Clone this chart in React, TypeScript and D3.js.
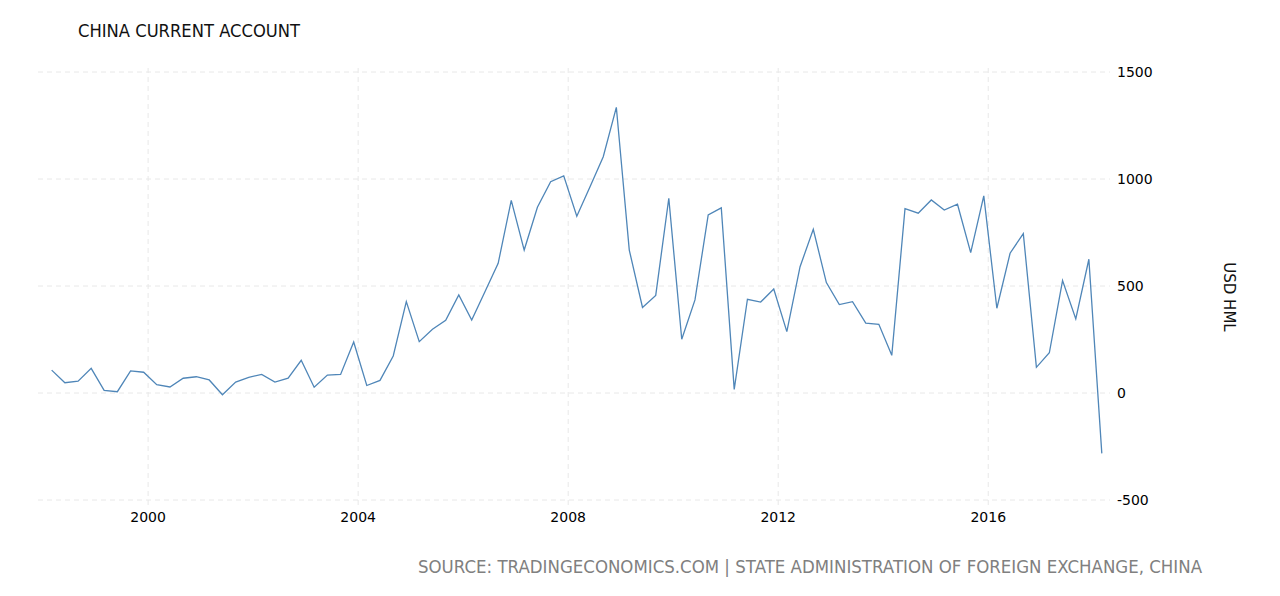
import React from "react";
import * as d3 from "d3";

const startYear = 1998;
const values: number[] = [
  107, 48, 55, 115, 12, 6, 103, 97, 39, 28, 69, 76, 61, -8, 51, 73, 87, 51, 69, 153,
  27, 84, 87, 238, 35, 59, 173, 427, 240, 298, 340, 458, 341, 473, 606, 900, 668, 868, 987, 1015,
  826, 964, 1104, 1335, 668, 400, 456, 910, 251, 435, 832, 865, 17, 438, 425, 486, 287, 590, 765, 516,
  413, 427, 327, 321, 176, 861, 840, 902, 855, 882, 656, 921, 396, 653, 745, 120, 188, 525, 346, 625,
  -282,
];
const yTicks = [-500, 0, 500, 1000, 1500];
const xTickYears = [2000, 2004, 2008, 2012, 2016];
const title = "CHINA CURRENT ACCOUNT";
const unitLabel = "USD HML";
const sourceText = "SOURCE: TRADINGECONOMICS.COM | STATE ADMINISTRATION OF FOREIGN EXCHANGE, CHINA";

type Pt = { date: Date; value: number };
const data: Pt[] = values.map((v, i) => ({
  date: new Date(startYear + Math.floor(i / 4), (i % 4) * 3 + 2, 1),
  value: v,
}));

export default function App() {
  const W = 1280, H = 596;
  const left = 38, right = 1110, top = 72, bottom = 500;
  const x = d3
    .scaleTime()
    .domain([new Date(1997, 10, 26), new Date(2018, 3, 27)])
    .range([left, right]);
  const y = d3.scaleLinear().domain([-500, 1500]).range([bottom, top]);
  const line = d3
    .line<Pt>()
    .x((d) => x(d.date))
    .y((d) => y(d.value));
  const font = "'DejaVu Sans', Verdana, sans-serif";
  const grid = "#e8e8e8";
  return (
    <svg
      width={W}
      height={H}
      style={{ position: "absolute", left: 0, top: 0, background: "#fff" }}
      fontFamily={font}
    >
      {yTicks.map((t) => (
        <g key={"y" + t}>
          <line x1={left} x2={right} y1={y(t)} y2={y(t)} stroke={grid} strokeDasharray="5,4" strokeWidth={1} />
          <text x={1117} y={y(t)} dy="0.35em" fontSize={14} fill="#000">
            {t}
          </text>
        </g>
      ))}
      {xTickYears.map((yr) => {
        const xx = x(new Date(yr, 0, 1));
        return (
          <g key={"x" + yr}>
            <line x1={xx} x2={xx} y1={top - 4} y2={507} stroke={grid} strokeDasharray="5,4" strokeWidth={1} />
            <text x={xx} y={517} dy="0.35em" textAnchor="middle" fontSize={14} fill="#000">
              {yr}
            </text>
          </g>
        );
      })}
      <path d={line(data) || ""} fill="none" stroke="#4f86b8" strokeWidth={1.3} />
      <text x={78} y={37} fontSize={17.5} fill="#111" textLength={222} lengthAdjust="spacingAndGlyphs">
        {title}
      </text>
      <text
        transform={`translate(1224,297) rotate(90)`}
        textAnchor="middle"
        fontSize={15}
        fill="#111"
      >
        {unitLabel}
      </text>
      <text x={418} y={573} fontSize={18} fill="#808080" textLength={784} lengthAdjust="spacingAndGlyphs">
        {sourceText}
      </text>
    </svg>
  );
}
